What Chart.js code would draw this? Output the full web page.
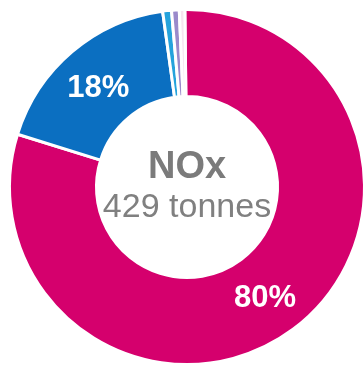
<!DOCTYPE html>
<html>
<head>
<meta charset="utf-8">
<script src="https://cdn.jsdelivr.net/npm/chart.js@4/dist/chart.umd.min.js"></script>
<style>
  html, body { margin: 0; padding: 0; background: #ffffff; overflow: hidden; width: 364px; height: 366px; }
  #wrap { position: absolute; left: 0; top: 0; width: 370px; height: 370px; }
</style>
</head>
<body>
<div id="wrap"><canvas id="chart"></canvas></div>
<script>
// NOx emissions split by source (share of total, %)
const categories = ['Source 1', 'Source 2', 'Source 3', 'Source 4', 'Source 5'];
const shares = [80, 18, 0.8, 0.7, 0.5];
const sliceColors = ['#d5006d', '#0b6fc1', '#25a3dc', '#9a8acb', '#f6e6f0'];
const pollutant = 'NOx';
const totalTonnes = 429;
const unitLabel = 'tonnes';

const FONT = '"Liberation Sans", Arial, Helvetica, sans-serif';

// Percentage labels on the larger slices plus the centre caption
const donutText = {
  id: 'donutText',
  afterDatasetsDraw(chart) {
    const ctx = chart.ctx;
    const meta = chart.getDatasetMeta(0);
    const total = shares.reduce((a, b) => a + b, 0);
    ctx.save();
    ctx.textAlign = 'center';
    ctx.textBaseline = 'middle';
    ctx.fillStyle = '#ffffff';
    ctx.font = 'bold 31px ' + FONT;
    meta.data.forEach((arc, i) => {
      const pct = shares[i] / total * 100;
      if (pct < 5) return;
      const p = arc.tooltipPosition();
      ctx.fillText(Math.round(pct) + '%', p.x - 2, p.y + 4);
    });

    const cx = meta.data[0].x;
    const cy = meta.data[0].y;
    ctx.textBaseline = 'alphabetic';
    ctx.fillStyle = '#7b7b7b';
    ctx.font = 'bold 38px ' + FONT;
    ctx.fillText(pollutant, cx, cy - 9);
    ctx.fillStyle = '#808080';
    ctx.font = '34px ' + FONT;
    ctx.fillText(totalTonnes + ' ' + unitLabel, cx, cy + 30);
    ctx.restore();
  }
};

new Chart(document.getElementById('chart'), {
  type: 'doughnut',
  data: {
    labels: categories,
    datasets: [{
      data: shares,
      backgroundColor: sliceColors,
      borderColor: '#ffffff',
      borderWidth: 3
    }]
  },
  options: {
    responsive: true,
    maintainAspectRatio: false,
    animation: false,
    events: [],
    cutout: '51%',
    rotation: -0.7,
    layout: { padding: { left: 8, right: 4, top: 8, bottom: 4 } },
    plugins: {
      legend: { display: false },
      tooltip: { enabled: false }
    }
  },
  plugins: [donutText]
});
</script>
</body>
</html>
